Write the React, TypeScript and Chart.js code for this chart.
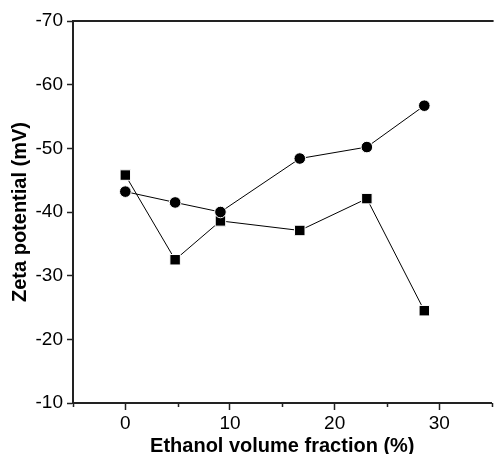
import React, { useEffect, useRef } from "react";
import { Chart, registerables } from "chart.js";

Chart.register(...registerables);

const ethanolFraction = [0, 4.76, 9.09, 16.67, 23.08, 28.57];
const circleSeries = [-43.2, -41.5, -40.0, -48.4, -50.2, -56.7];
const squareSeries = [-45.8, -32.5, -38.6, -37.1, -42.1, -24.5];
const xMajorTicks = [0, 10, 20, 30];
const xMinorTicks = [-5, 5, 15, 25, 35];

const FONT = "'Liberation Sans', Arial, Helvetica, sans-serif";
const AXIS_COLOR = "#222";

const frame = {
  id: "frame",
  afterDraw(chart: any) {
    const { ctx, chartArea, scales } = chart;
    const x = scales.x;
    ctx.save();
    ctx.strokeStyle = AXIS_COLOR;
    ctx.lineWidth = 2;
    ctx.beginPath();
    ctx.moveTo(chartArea.left - 1, chartArea.top);
    ctx.lineTo(chartArea.right + 2, chartArea.top);
    ctx.stroke();
    ctx.lineWidth = 1.5;
    ctx.beginPath();
    for (const v of xMinorTicks) {
      const px = Math.round(x.getPixelForValue(v)) + 0.5;
      ctx.moveTo(px, chartArea.bottom);
      ctx.lineTo(px, chartArea.bottom + 4);
    }
    ctx.stroke();
    ctx.restore();
  },
};

export default function App() {
  const ref = useRef<HTMLCanvasElement>(null);
  useEffect(() => {
    if (!ref.current) return;
    const toPts = (ys: number[]) => ys.map((y, i) => ({ x: ethanolFraction[i], y }));
    const chart = new Chart(ref.current, {
      type: "line",
      data: {
        datasets: [
          {
            label: "circles",
            data: toPts(circleSeries),
            borderColor: "#000",
            borderWidth: 1,
            backgroundColor: "#000",
            pointStyle: "circle",
            pointRadius: 5.8,
            pointBorderColor: "#fff",
            pointBorderWidth: 1,
            pointBackgroundColor: "#000",
            tension: 0,
          },
          {
            label: "squares",
            data: toPts(squareSeries),
            borderColor: "#000",
            borderWidth: 1,
            backgroundColor: "#000",
            pointStyle: "rect",
            pointRadius: 7.4,
            pointBorderColor: "#fff",
            pointBorderWidth: 1,
            pointBackgroundColor: "#000",
            tension: 0,
          },
        ],
      },
      options: {
        animation: false,
        responsive: false,
        devicePixelRatio: 1,
        layout: { padding: { top: 21, right: 4, left: 0, bottom: 0 } },
        plugins: { legend: { display: false }, tooltip: { enabled: false } },
        scales: {
          x: {
            type: "linear",
            min: -5,
            max: 35,
            afterFit: (s: any) => {
              s.height = 67;
            },
            afterBuildTicks: (s: any) => {
              s.ticks = xMajorTicks.map((v) => ({ value: v }));
            },
            ticks: {
              autoSkip: false,
              maxRotation: 0,
              padding: 2,
              color: "#000",
              font: { family: FONT, size: 19 },
              callback: (v: any) => String(v),
            },
            grid: {
              drawOnChartArea: false,
              drawTicks: true,
              tickLength: 7,
              tickWidth: 1.5,
              tickColor: AXIS_COLOR,
            },
            border: { display: true, color: AXIS_COLOR, width: 2 },
            title: {
              display: true,
              text: "Ethanol volume fraction (%)",
              color: "#000",
              font: { family: FONT, size: 20, weight: "bold" },
              padding: { top: 0, bottom: 12 },
            },
          },
          y: {
            type: "linear",
            reverse: true,
            min: -70,
            max: -10,
            afterFit: (s: any) => {
              s.width = 73;
            },
            ticks: {
              stepSize: 10,
              padding: 4,
              color: "#000",
              font: { family: FONT, size: 19 },
            },
            grid: {
              drawOnChartArea: false,
              drawTicks: true,
              tickLength: 6,
              tickWidth: 1.5,
              tickColor: AXIS_COLOR,
            },
            border: { display: true, color: AXIS_COLOR, width: 2 },
            title: {
              display: true,
              text: "Zeta potential (mV)",
              color: "#000",
              font: { family: FONT, size: 20, weight: "bold" },
              padding: { top: 8, bottom: 0 },
            },
          },
        },
      },
      plugins: [frame],
    });
    return () => chart.destroy();
  }, []);
  return (
    <div style={{ position: "fixed", left: 0, top: 0, width: 495, height: 454, overflow: "hidden", background: "#fff" }}>
      <canvas ref={ref} width={500} height={470} style={{ display: "block" }} />
    </div>
  );
}
